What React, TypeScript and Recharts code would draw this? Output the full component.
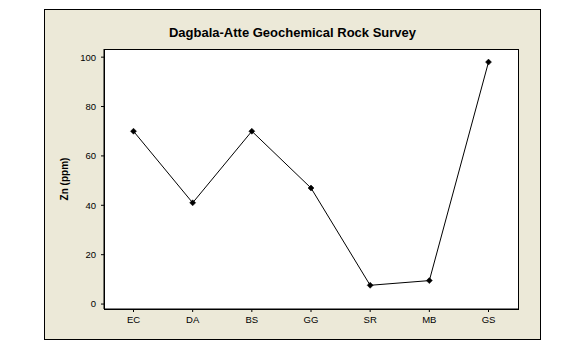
import { Line, LineChart, XAxis, YAxis } from "recharts";

const sites = ["EC", "DA", "BS", "GG", "SR", "MB", "GS"];
const znPpm = [70, 41, 70, 47, 7.6, 9.5, 98];
const yTicks = [0, 20, 40, 60, 80, 100];

const data = sites.map((site, i) => ({ site, zn: znPpm[i] }));

const FONT = "'Liberation Sans', Arial, sans-serif";

function Diamond(props: any) {
  const { cx, cy } = props;
  if (cx == null || cy == null) return null;
  const r = 3;
  return (
    <polygon
      points={`${cx},${cy - r} ${cx + r},${cy} ${cx},${cy + r} ${cx - r},${cy}`}
      fill="#000"
      stroke="#000"
      strokeWidth={0.5}
    />
  );
}

export default function App() {
  return (
    <div style={{ position: "absolute", left: 0, top: 0, width: 562, height: 351, background: "#fff" }}>
      {/* outer frame */}
      <div
        style={{
          position: "absolute",
          left: 44,
          top: 9,
          width: 497,
          height: 331,
          boxSizing: "border-box",
          border: "1px solid #000",
          background: "#ECE9D8",
        }}
      />
      {/* plot area */}
      <div
        style={{
          position: "absolute",
          left: 104,
          top: 49,
          width: 415,
          height: 261,
          boxSizing: "border-box",
          border: "1px solid #000",
          background: "#fff",
        }}
      />
      <div
        style={{
          position: "absolute",
          left: 44,
          top: 25,
          width: 497,
          textAlign: "center",
          fontFamily: FONT,
          fontWeight: "bold",
          fontSize: 13,
          lineHeight: "16px",
          color: "#000",
        }}
      >
        Dagbala-Atte Geochemical Rock Survey
      </div>
      <div style={{ position: "absolute", left: 0, top: 0 }}>
        <LineChart
          width={562}
          height={351}
          data={data}
          margin={{ top: 49, right: 44, bottom: 12, left: 44 }}
        >
          <XAxis
            dataKey="site"
            scale="point"
            padding={{ left: 29.5, right: 29.5 }}
            height={30}
            tickSize={3}
            tickMargin={4}
            axisLine={{ stroke: "#000" }}
            tickLine={{ stroke: "#000" }}
            tick={{ fill: "#000", fontSize: 9.5, fontFamily: FONT }}
          />
          <YAxis
            domain={[-2, 103.3]}
            ticks={yTicks}
            width={60}
            tickSize={3}
            tickMargin={5}
            axisLine={{ stroke: "#000" }}
            tickLine={{ stroke: "#000" }}
            tick={{ fill: "#000", fontSize: 9.5, fontFamily: FONT }}
            label={{
              content: () => (
                <text
                  x={68}
                  y={179}
                  transform="rotate(-90 68 179)"
                  textAnchor="middle"
                  fontFamily={FONT}
                  fontWeight="bold"
                  fontSize={10}
                  fill="#000"
                >
                  Zn (ppm)
                </text>
              ),
            }}
          />
          <Line
            type="linear"
            dataKey="zn"
            stroke="#000"
            strokeWidth={1}
            dot={<Diamond />}
            activeDot={false}
            isAnimationActive={false}
          />
        </LineChart>
      </div>
    </div>
  );
}
